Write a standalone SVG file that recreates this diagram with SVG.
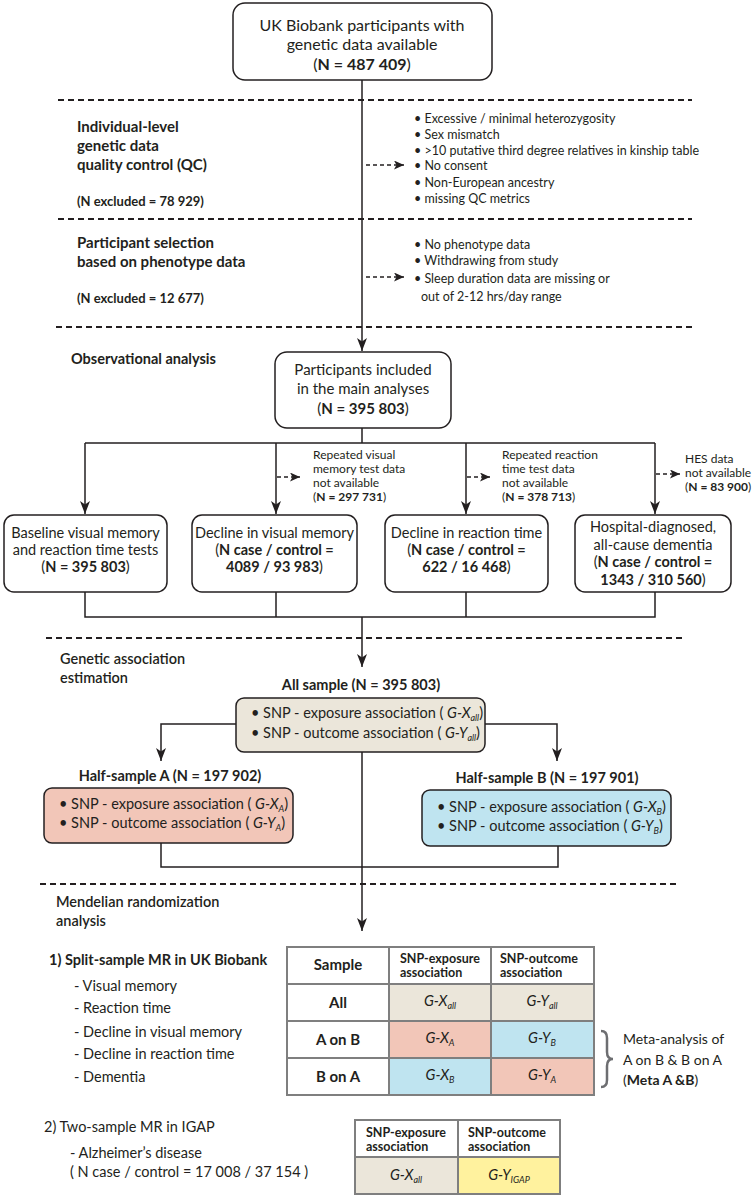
<svg xmlns="http://www.w3.org/2000/svg" width="755" height="1198" viewBox="0 0 755 1198">
<style>
.t{font-family:Lato,"Noto Sans",sans-serif;fill:#231f20}
.b{font-weight:700}
.i{font-style:italic}
.m{text-anchor:middle}
.box{fill:#fff;stroke:#231f20;stroke-width:1.5}
.ln{fill:none;stroke:#231f20;stroke-width:1.5}
.da{fill:none;stroke:#231f20;stroke-width:1.5;stroke-dasharray:4 3}
.sep{fill:none;stroke:#231f20;stroke-width:2;stroke-dasharray:6 4}
.tb{stroke:#7f7f7f;stroke-width:2}
.beige{fill:#ebe6da}
.pink{fill:#f2c6b8}
.blue{fill:#bfe4f0}
.yel{fill:#fff29e}
.wh{fill:#fff}
</style>
<defs>
<marker id="ah" viewBox="0 0 13 10" refX="13" refY="5" markerWidth="13" markerHeight="10" markerUnits="userSpaceOnUse" orient="auto"><path d="M0,0 L13,5 L0,10 L3.5,5 z" fill="#231f20"/></marker>
<marker id="as" viewBox="0 0 10 9" refX="10" refY="4.5" markerWidth="10" markerHeight="9" markerUnits="userSpaceOnUse" orient="auto"><path d="M0,0 L10,4.5 L0,9 L2.5,4.5 z" fill="#231f20"/></marker>
</defs>

<g id="separators">
<line class="sep" x1="58" y1="100" x2="692" y2="100"/>
<line class="sep" x1="58" y1="219" x2="692" y2="219"/>
<line class="sep" x1="56" y1="327" x2="692" y2="327"/>
<line class="sep" x1="46" y1="638" x2="684" y2="638"/>
<line class="sep" x1="40" y1="884" x2="676" y2="884"/>
</g>

<g id="connectors">
<path class="ln" d="M362,80 V351" marker-end="url(#ah)"/>
<path class="da" d="M366,165 H404" marker-end="url(#as)"/>
<path class="da" d="M366,277 H404" marker-end="url(#as)"/>
<path class="ln" d="M362,428 V443 M85,443 H655"/>
<path class="ln" d="M85,443 V514" marker-end="url(#ah)"/>
<path class="ln" d="M276,443 V514" marker-end="url(#ah)"/>
<path class="ln" d="M466,443 V514" marker-end="url(#ah)"/>
<path class="ln" d="M655,443 V514" marker-end="url(#ah)"/>
<path class="da" d="M277,477 H300" marker-end="url(#as)"/>
<path class="da" d="M467,477 H490" marker-end="url(#as)"/>
<path class="da" d="M656,474 H680" marker-end="url(#as)"/>
<path class="ln" d="M85,592 V617 H655 V592 M276,592 V617 M466,592 V617"/>
<path class="ln" d="M362,617 V667" marker-end="url(#ah)"/>
<path class="ln" d="M236,724 H161 V761" marker-end="url(#ah)"/>
<path class="ln" d="M485,724 H557 V761" marker-end="url(#ah)"/>
<path class="ln" d="M362,752 V931" marker-end="url(#ah)"/>
<path class="ln" d="M161,843 V867 H558 V846"/>
</g>

<g id="n-top">
<rect class="box" x="233" y="3" width="259" height="77" rx="12"/>
<text class="t m" x="362" y="31" font-size="16">UK Biobank participants with</text>
<text class="t m" x="362" y="50" font-size="16">genetic data available</text>
<text class="t m" x="362" y="70" font-size="16">(<tspan class="b">N = 487 409</tspan>)</text>
</g>

<g id="label-qc">
<text class="t b" x="77" y="132" font-size="15">Individual-level</text>
<text class="t b" x="77" y="151" font-size="15">genetic data</text>
<text class="t b" x="77" y="170" font-size="15">quality control (QC)</text>
<text class="t b" x="77" y="206" font-size="13">(N excluded = 78 929)</text>
</g>

<g id="list-qc" font-size="12.5">
<text class="t" x="414" y="122.5">• Excessive / minimal heterozygosity</text>
<text class="t" x="414" y="138.5">• Sex mismatch</text>
<text class="t" x="414" y="154.5">• &gt;10 putative third degree relatives in kinship table</text>
<text class="t" x="414" y="170">• No consent</text>
<text class="t" x="414" y="186.5">• Non-European ancestry</text>
<text class="t" x="414" y="202.5">• missing QC metrics</text>
</g>

<g id="label-pheno">
<text class="t b" x="77" y="248" font-size="15">Participant selection</text>
<text class="t b" x="77" y="267" font-size="15">based on phenotype data</text>
<text class="t b" x="77" y="303" font-size="13">(N excluded = 12 677)</text>
</g>

<g id="list-pheno" font-size="12.5">
<text class="t" x="414" y="248.5">• No phenotype data</text>
<text class="t" x="414" y="265">• Withdrawing from study</text>
<text class="t" x="414" y="282.5">• Sleep duration data are missing or</text>
<text class="t" x="421" y="301">out of 2-12 hrs/day range</text>
</g>

<g id="label-obs">
<text class="t b" x="71" y="364" font-size="14.5">Observational analysis</text>
</g>

<g id="n-participants">
<rect class="box" x="275" y="352" width="176" height="76" rx="12"/>
<text class="t m" x="363" y="375" font-size="15">Participants included</text>
<text class="t m" x="363" y="394" font-size="15">in the main analyses</text>
<text class="t m" x="363" y="414" font-size="15">(<tspan class="b">N = 395 803</tspan>)</text>
</g>

<g id="ann-vm" font-size="12">
<text class="t" x="313" y="459">Repeated visual</text>
<text class="t" x="313" y="473">memory test data</text>
<text class="t" x="313" y="487">not available</text>
<text class="t" x="313" y="501">(<tspan class="b">N = 297 731</tspan>)</text>
</g>
<g id="ann-rt" font-size="12">
<text class="t" x="502" y="459">Repeated reaction</text>
<text class="t" x="502" y="473">time test data</text>
<text class="t" x="502" y="487">not available</text>
<text class="t" x="502" y="501">(<tspan class="b">N = 378 713</tspan>)</text>
</g>
<g id="ann-hes" font-size="12">
<text class="t" x="685" y="463">HES data</text>
<text class="t" x="685" y="477">not available</text>
<text class="t" x="685" y="491">(<tspan class="b">N = 83 900</tspan>)</text>
</g>

<g id="n-baseline" font-size="14.5">
<rect class="box" x="4" y="515" width="163" height="77" rx="10"/>
<text class="t m" x="85.5" y="538">Baseline visual memory</text>
<text class="t m" x="85.5" y="555">and reaction time tests</text>
<text class="t m" x="85.5" y="572">(<tspan class="b">N = 395 803</tspan>)</text>
</g>
<g id="n-decline-vm" font-size="14.5">
<rect class="box" x="192" y="515" width="165" height="77" rx="10"/>
<text class="t m" x="274.5" y="538">Decline in visual memory</text>
<text class="t m" x="274.5" y="555">(<tspan class="b">N case / control =</tspan></text>
<text class="t m" x="274.5" y="572"><tspan class="b">4089 / 93 983</tspan>)</text>
</g>
<g id="n-decline-rt" font-size="14.5">
<rect class="box" x="385" y="515" width="163" height="77" rx="10"/>
<text class="t m" x="466.5" y="538">Decline in reaction time</text>
<text class="t m" x="466.5" y="555">(<tspan class="b">N case / control =</tspan></text>
<text class="t m" x="466.5" y="572"><tspan class="b">622 / 16 468</tspan>)</text>
</g>
<g id="n-dementia" font-size="14.5">
<rect class="box" x="575" y="515" width="156" height="77" rx="10"/>
<text class="t m" x="653" y="532">Hospital-diagnosed,</text>
<text class="t m" x="653" y="549.5">all-cause dementia</text>
<text class="t m" x="653" y="567">(<tspan class="b">N case / control =</tspan></text>
<text class="t m" x="653" y="584.5"><tspan class="b">1343 / 310 560</tspan>)</text>
</g>

<g id="label-genetic" font-size="14.5">
<text class="t" x="60" y="664" font-weight="600">Genetic association</text>
<text class="t" x="60" y="683" font-weight="600">estimation</text>
</g>

<g id="n-all" font-size="14.5">
<text class="t b m" x="361" y="690">All sample (N = 395 803)</text>
<rect class="box beige" x="236" y="698" width="249" height="54" rx="8"/>
<text class="t" x="251" y="718">• SNP - exposure association ( <tspan class="i">G-X</tspan><tspan class="i" font-size="9" dy="3">all</tspan><tspan dy="-3">)</tspan></text>
<text class="t" x="251" y="738">• SNP - outcome association ( <tspan class="i">G-Y</tspan><tspan class="i" font-size="9" dy="3">all</tspan><tspan dy="-3">)</tspan></text>
</g>

<g id="n-half-a" font-size="14.5">
<text class="t b m" x="170" y="781">Half-sample A (N = 197 902)</text>
<rect class="box pink" x="44" y="788" width="249" height="55" rx="8"/>
<text class="t" x="59" y="809">• SNP - exposure association ( <tspan class="i">G-X</tspan><tspan class="i" font-size="9" dy="3">A</tspan><tspan dy="-3">)</tspan></text>
<text class="t" x="59" y="828">• SNP - outcome association ( <tspan class="i">G-Y</tspan><tspan class="i" font-size="9" dy="3">A</tspan><tspan dy="-3">)</tspan></text>
</g>

<g id="n-half-b" font-size="14.5">
<text class="t b m" x="547" y="783">Half-sample B (N = 197 901)</text>
<rect class="box blue" x="422" y="790" width="249" height="56" rx="8"/>
<text class="t" x="437" y="812">• SNP - exposure association ( <tspan class="i">G-X</tspan><tspan class="i" font-size="9" dy="3">B</tspan><tspan dy="-3">)</tspan></text>
<text class="t" x="437" y="831">• SNP - outcome association ( <tspan class="i">G-Y</tspan><tspan class="i" font-size="9" dy="3">B</tspan><tspan dy="-3">)</tspan></text>
</g>

<g id="label-mr" font-size="14.5">
<text class="t" x="56" y="907" font-weight="600">Mendelian randomization</text>
<text class="t" x="56" y="926" font-weight="600">analysis</text>
</g>

<g id="split-sample" font-size="14.5">
<text class="t b" x="49" y="965">1) Split-sample MR in UK Biobank</text>
<text class="t" x="74" y="991">- Visual memory</text>
<text class="t" x="74" y="1013">- Reaction time</text>
<text class="t" x="74" y="1036.5">- Decline in visual memory</text>
<text class="t" x="74" y="1059">- Decline in reaction time</text>
<text class="t" x="74" y="1082">- Dementia</text>
</g>

<g id="table-split">
<rect class="wh" x="287" y="947" width="307" height="148"/>
<rect class="beige" x="389" y="984" width="102" height="37"/>
<rect class="beige" x="491" y="984" width="103" height="37"/>
<rect class="pink" x="389" y="1021" width="102" height="37"/>
<rect class="blue" x="491" y="1021" width="103" height="37"/>
<rect class="blue" x="389" y="1058" width="102" height="37"/>
<rect class="pink" x="491" y="1058" width="103" height="37"/>
<path class="tb" fill="none" d="M287,947 H594 V1095 H287 Z M389,947 V1095 M491,947 V1095 M287,984 H594 M287,1021 H594 M287,1058 H594"/>
<text class="t b m" x="338" y="970" font-size="15">Sample</text>
<text class="t b" x="400" y="963" font-size="12.5">SNP-exposure</text>
<text class="t b" x="400" y="977" font-size="12.5">association</text>
<text class="t b" x="500" y="963" font-size="12.5">SNP-outcome</text>
<text class="t b" x="500" y="977" font-size="12.5">association</text>
<text class="t b m" x="338" y="1008" font-size="15">All</text>
<text class="t b m" x="338" y="1045" font-size="15">A on B</text>
<text class="t b m" x="338" y="1082" font-size="15">B on A</text>
<g font-size="14.5">
<text class="t m" x="440" y="1006"><tspan class="i">G-X</tspan><tspan class="i" font-size="9" dy="3">all</tspan></text>
<text class="t m" x="542" y="1006"><tspan class="i">G-Y</tspan><tspan class="i" font-size="9" dy="3">all</tspan></text>
<text class="t m" x="440" y="1043"><tspan class="i">G-X</tspan><tspan class="i" font-size="9" dy="3">A</tspan></text>
<text class="t m" x="542" y="1043"><tspan class="i">G-Y</tspan><tspan class="i" font-size="9" dy="3">B</tspan></text>
<text class="t m" x="440" y="1080"><tspan class="i">G-X</tspan><tspan class="i" font-size="9" dy="3">B</tspan></text>
<text class="t m" x="542" y="1080"><tspan class="i">G-Y</tspan><tspan class="i" font-size="9" dy="3">A</tspan></text>
</g>
</g>

<g id="meta">
<path d="M601,1031 Q607,1031 607,1038 L607,1052 Q607,1059 613,1059 Q607,1059 607,1066 L607,1080 Q607,1087 601,1087" fill="none" stroke="#6d6e71" stroke-width="2.5"/>
<text class="t" x="623" y="1044" font-size="14">Meta-analysis of</text>
<text class="t" x="623" y="1065" font-size="14">A on B &amp; B on A</text>
<text class="t" x="623" y="1085" font-size="14">(<tspan class="b">Meta A &amp;B</tspan>)</text>
</g>

<g id="two-sample" font-size="14.5">
<text class="t" x="44" y="1132">2) Two-sample MR in IGAP</text>
<text class="t" x="70" y="1158">- Alzheimer’s disease</text>
<text class="t" x="70" y="1177">( N case / control = 17 008 / 37 154 )</text>
</g>

<g id="table-igap">
<rect class="wh" x="355" y="1120" width="205" height="37"/>
<rect class="beige" x="355" y="1157" width="103" height="37"/>
<rect class="yel" x="458" y="1157" width="102" height="37"/>
<path class="tb" fill="none" d="M355,1120 H560 V1194 H355 Z M458,1120 V1194 M355,1157 H560"/>
<text class="t b" x="366" y="1137" font-size="12.5">SNP-exposure</text>
<text class="t b" x="366" y="1151" font-size="12.5">association</text>
<text class="t b" x="468" y="1137" font-size="12.5">SNP-outcome</text>
<text class="t b" x="468" y="1151" font-size="12.5">association</text>
<text class="t m" x="406" y="1180" font-size="14.5"><tspan class="i">G-X</tspan><tspan class="i" font-size="9" dy="3">all</tspan></text>
<text class="t m" x="509" y="1180" font-size="14.5"><tspan class="i">G-Y</tspan><tspan class="i" font-size="9" dy="3">IGAP</tspan></text>
</g>
</svg>
